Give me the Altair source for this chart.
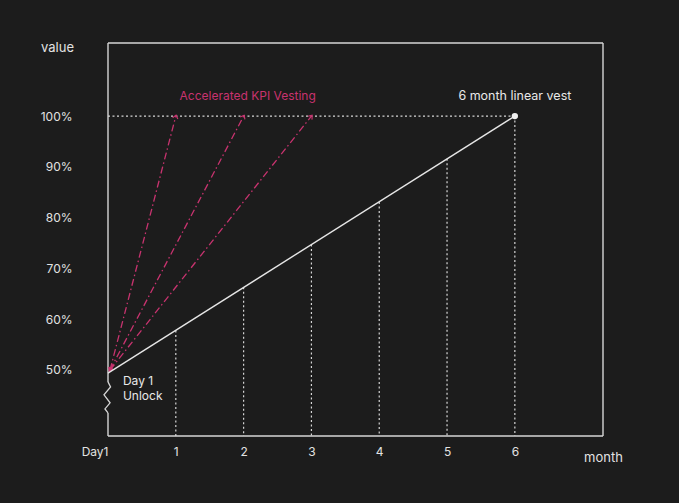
import math
import altair as alt
import pandas as pd

# ---- data ----
x_ticks = [0, 1, 2, 3, 4, 5, 6]
y_ticks = [50, 60, 70, 80, 90, 100]

linear_months = [0, 6]
linear_values = [49.4, 100]

step_months = [1, 2, 3, 4, 5, 6]
step_values = [57.8, 66.3, 74.7, 83.1, 91.6, 100]

kpi_end_months = [1, 2, 3]
kpi_end_value = 100
kpi_start_month = 0.03
kpi_start_value = 50.0

# ---- scale / layout constants ----
X_MIN, X_MAX = 0, 7.3
Y_MIN, Y_MAX = 37, 114.4
W, H = 495, 393
PX_X = W / (X_MAX - X_MIN)
PX_Y = H / (Y_MAX - Y_MIN)

BG = "#1c1c1c"
FG = "#d6d6d6"
PINK = "#c8336f"
FONT = "Inter"

xs = alt.Scale(domain=[X_MIN, X_MAX], nice=False, zero=False)
ys = alt.Scale(domain=[Y_MIN, Y_MAX], nice=False, zero=False)

ZIG_Y = 44.6
ZIG_HALF = 15.5 / PX_Y

# frame segments (edges of plot area, left edge broken by zigzag)
frame = pd.DataFrame({
    "x": [X_MIN, X_MAX, X_MIN, X_MIN, X_MIN],
    "x2": [X_MAX, X_MAX, X_MAX, X_MIN, X_MIN],
    "y": [Y_MAX, Y_MAX, Y_MIN, Y_MAX, ZIG_Y - ZIG_HALF],
    "y2": [Y_MAX, Y_MIN, Y_MIN, ZIG_Y + ZIG_HALF, Y_MIN],
})

axis_x = alt.Axis(
    values=x_ticks, format="d",
    labelExpr="datum.value == 0 ? 'Day1' : datum.label",
    labelAlign={"condition": {"test": "datum.value == 0", "value": "right"}, "value": "center"},
    domain=False, ticks=False, grid=False, labelPadding=10,
    labelColor="#e2e2e2", labelFont=FONT, labelFontSize=12,
    title="month", titleAngle=0, titleX=W, titleY=21, titleAlign="center",
    titleBaseline="middle", titleColor="#e2e2e2", titleFont=FONT,
    titleFontSize=13, titleFontWeight="normal",
)
axis_y = alt.Axis(
    values=y_ticks, labelExpr="datum.value + '%'",
    domain=False, ticks=False, grid=False, labelPadding=36,
    labelColor="#e2e2e2", labelFont=FONT, labelFontSize=12,
    title="value", titleAngle=0, titleX=-51, titleY=4, titleAlign="center",
    titleBaseline="middle", titleColor="#e2e2e2", titleFont=FONT,
    titleFontSize=13, titleFontWeight="normal",
)

frame_layer = alt.Chart(frame).mark_rule(color=FG, strokeWidth=1.4).encode(
    x=alt.X("x:Q", scale=xs, axis=axis_x),
    x2="x2",
    y=alt.Y("y:Q", scale=ys, axis=axis_y),
    y2="y2",
)

zig = alt.Chart(pd.DataFrame({"x": [X_MIN], "y": [ZIG_Y]})).mark_point(
    shape="M0,-0.97L0.16,-0.66L-0.25,-0.16L0.13,0.34L-0.19,0.72L0,0.97",
    size=1024, filled=False, color=FG, strokeWidth=1.3, opacity=1,
).encode(x=alt.X("x:Q", scale=xs), y=alt.Y("y:Q", scale=ys))

steps = pd.DataFrame({"m": step_months, "v": step_values, "b": [Y_MIN] * len(step_months)})
step_layer = alt.Chart(steps).mark_rule(color=FG, strokeWidth=1.2, strokeDash=[2, 2.5]).encode(
    x=alt.X("m:Q", scale=xs), y=alt.Y("v:Q", scale=ys), y2="b"
)

hline = alt.Chart(pd.DataFrame({"x": [X_MIN], "x2": [6], "y": [100]})).mark_rule(
    color=FG, strokeWidth=1.2, strokeDash=[2, 2.5]
).encode(x=alt.X("x:Q", scale=xs), x2="x2", y=alt.Y("y:Q", scale=ys))

linear = alt.Chart(pd.DataFrame({"m": linear_months, "v": linear_values})).mark_line(
    color="#e6e6e6", strokeWidth=1.4
).encode(x=alt.X("m:Q", scale=xs), y=alt.Y("v:Q", scale=ys))

angles = [
    math.degrees(math.atan2((m - kpi_start_month) * PX_X, (kpi_end_value - kpi_start_value) * PX_Y))
    for m in kpi_end_months
]
kpi = pd.DataFrame({
    "x": [kpi_start_month] * 3, "x2": kpi_end_months,
    "y": [kpi_start_value] * 3, "y2": [kpi_end_value] * 3,
    "a": angles,
})
kpi_lines = alt.Chart(kpi).mark_rule(color=PINK, strokeWidth=1.3, strokeDash=[7, 3, 1.5, 3]).encode(
    x=alt.X("x:Q", scale=xs), x2="x2", y=alt.Y("y:Q", scale=ys), y2="y2"
)
kpi_tips = alt.Chart(kpi).mark_point(
    shape="triangle-down", filled=True, color=PINK, size=28, opacity=1
).encode(
    x=alt.X("x:Q", scale=xs), y=alt.Y("y:Q", scale=ys),
    angle=alt.Angle("a:Q", scale=None),
)
kpi_caps = alt.Chart(kpi).mark_point(
    shape="M-0.8,0.7L0,-0.3L0.8,0.7", filled=False, color=PINK, size=45,
    strokeWidth=1.2, opacity=1
).encode(
    x=alt.X("x2:Q", scale=xs), y=alt.Y("y2:Q", scale=ys),
    angle=alt.Angle("a:Q", scale=None),
)

end_dot = alt.Chart(pd.DataFrame({"m": [6], "v": [100]})).mark_circle(
    color="#f0f0f0", size=40, opacity=1
).encode(x=alt.X("m:Q", scale=xs), y=alt.Y("v:Q", scale=ys))

lin_label = alt.Chart(pd.DataFrame({"m": [6], "v": [103.9], "t": ["6 month linear vest"]})).mark_text(
    color="#e8e8e8", font=FONT, fontSize=12.5, align="center", baseline="middle"
).encode(x=alt.X("m:Q", scale=xs), y=alt.Y("v:Q", scale=ys), text="t:N")

kpi_label = alt.Chart(pd.DataFrame({"m": [2.06], "v": [103.9], "t": ["Accelerated  KPI  Vesting"]})).mark_text(
    color=PINK, font=FONT, fontSize=12, align="center", baseline="middle"
).encode(x=alt.X("m:Q", scale=xs), y=alt.Y("v:Q", scale=ys), text="t:N")

unlock_label = alt.Chart(pd.DataFrame({"m": [0.22, 0.22], "v": [47.9, 44.9], "t": ["Day 1", "Unlock"]})).mark_text(
    color="#e8e8e8", font=FONT, fontSize=12, align="left", baseline="middle"
).encode(x=alt.X("m:Q", scale=xs), y=alt.Y("v:Q", scale=ys), text="t:N")

chart = alt.layer(
    frame_layer, zig, step_layer, hline, kpi_lines, kpi_tips, kpi_caps,
    linear, end_dot, lin_label, kpi_label, unlock_label,
).properties(
    width=W, height=H,
    padding={"left": 108, "top": 43, "right": 76, "bottom": 67},
    autosize=alt.AutoSizeParams(type="none"),
    background=BG,
).configure_view(stroke=None)

chart.save("out.html", embed_options={"renderer": "svg", "actions": False})
